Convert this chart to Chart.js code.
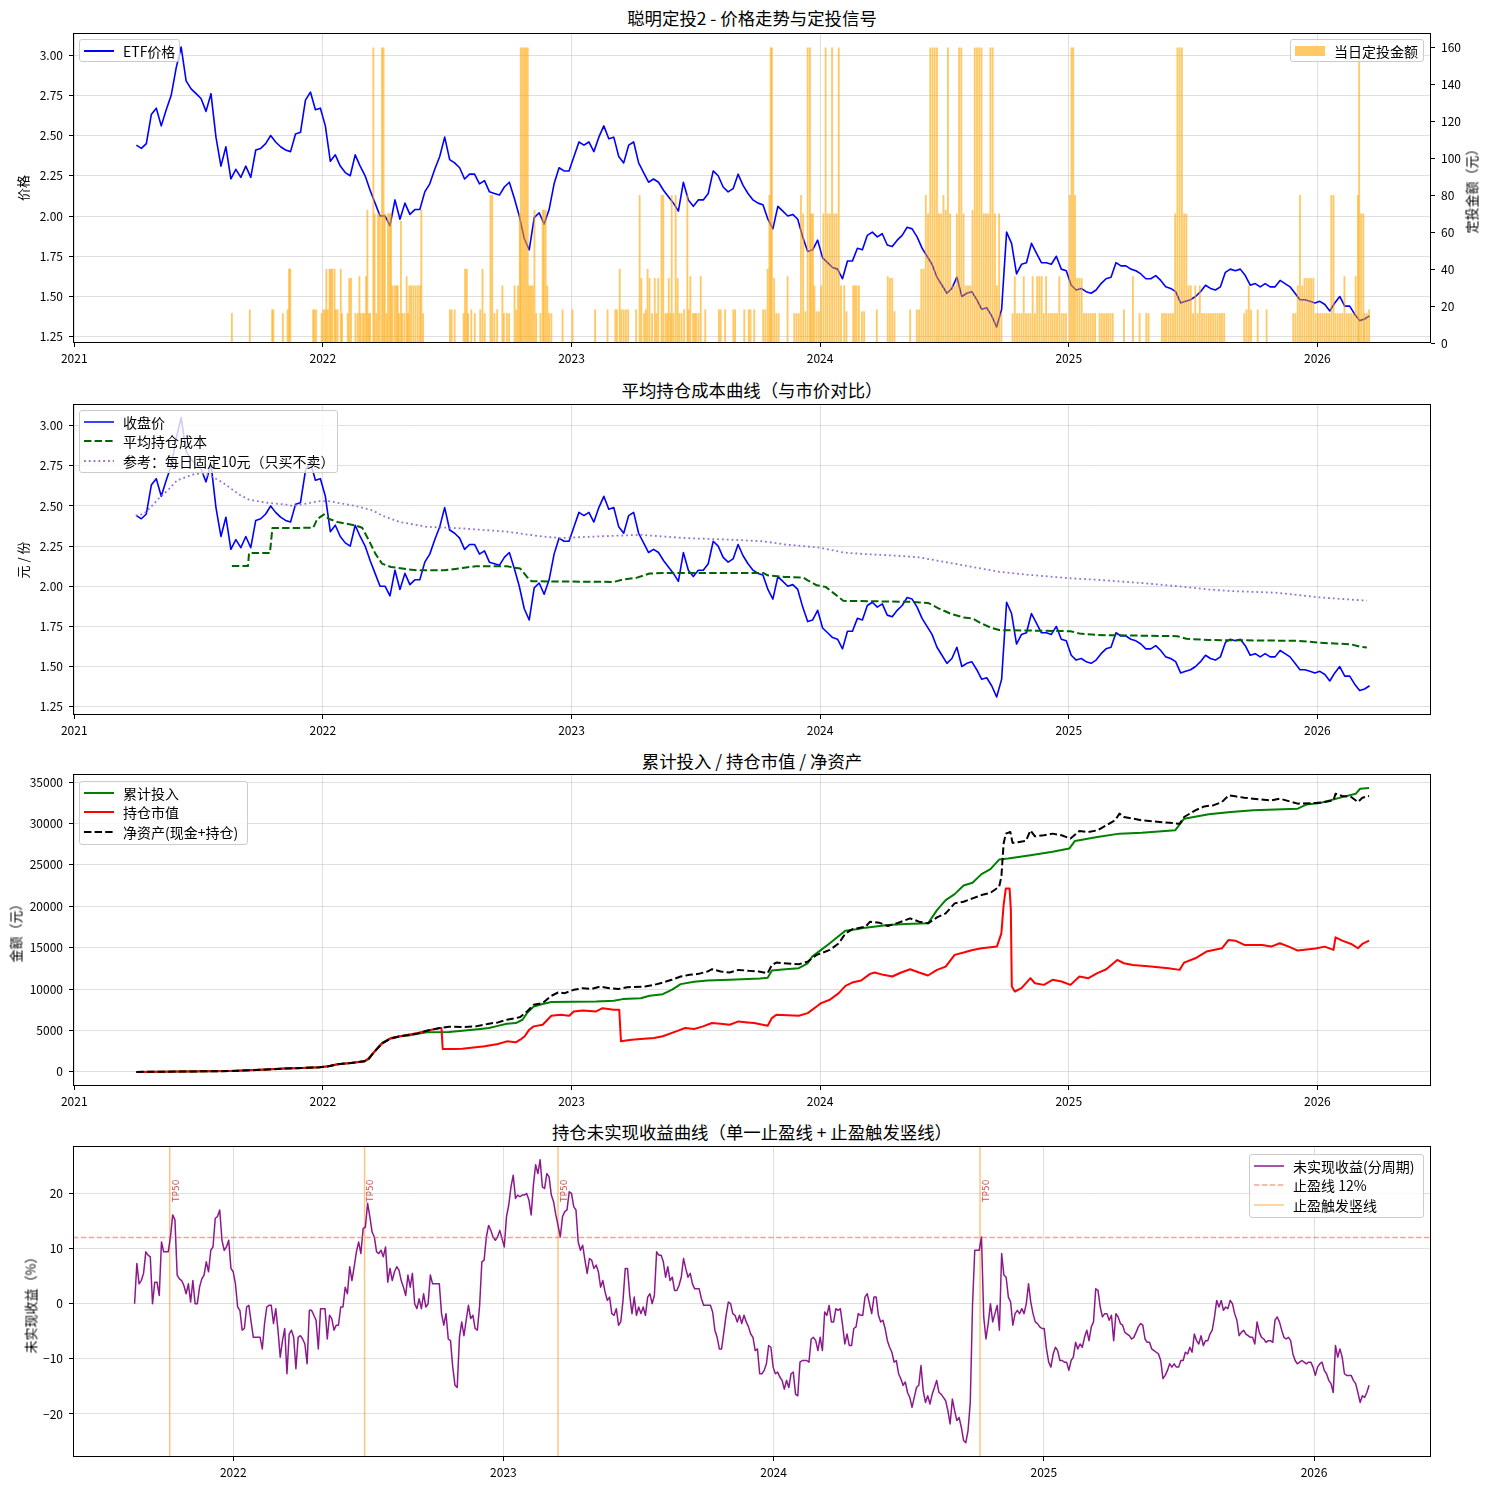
<!DOCTYPE html>
<html lang="zh-CN">
<head>
<meta charset="UTF-8">
<meta name="viewport" content="width=device-width, initial-scale=1.0">
<title>聪明定投2</title>
<script src="https://cdn.jsdelivr.net/npm/chart.js"></script>
<style>
  body { margin: 0; background: #fff; font-family: "Noto Sans CJK SC", "Noto Sans", sans-serif; color: #000; }
  #fig { position: relative; width: 1489px; height: 1489px; overflow: hidden; background: #fff; }
  .box { position: absolute; left: 0; width: 1489px; }
  .title { position: absolute; left: 73px; width: 1358px; height: 20px; line-height: 20px; text-align: center; font-size: 17.4px; }
  .ylab { position: absolute; font-size: 13px; white-space: nowrap; transform: translate(-50%, -50%) rotate(-90deg); }
  .legend { position: absolute; box-sizing: border-box; background: rgba(255,255,255,0.8); border: 1px solid #cccccc; border-radius: 3px; padding: 1px 0 0 4px; font-size: 14px; }
  .legend .row { display: flex; align-items: center; height: 19.5px; white-space: nowrap; }
  .legend svg { margin-right: 9px; flex: none; }
</style>
</head>
<body>
<div id="fig">
  <div class="title" style="top:8px">聪明定投2 - 价格走势与定投信号</div>
  <div class="title" style="top:380px">平均持仓成本曲线（与市价对比）</div>
  <div class="title" style="top:751px">累计投入 / 持仓市值 / 净资产</div>
  <div class="title" style="top:1122px">持仓未实现收益曲线（单一止盈线 + 止盈触发竖线）</div>

  <div class="box" style="top:23px;height:350px"><canvas id="c1" width="1489" height="350"></canvas></div>
  <div class="box" style="top:394px;height:351px"><canvas id="c2" width="1489" height="351"></canvas></div>
  <div class="box" style="top:764px;height:352px"><canvas id="c3" width="1489" height="352"></canvas></div>
  <div class="box" style="top:1136px;height:351px"><canvas id="c4" width="1489" height="351"></canvas></div>

  <div class="ylab" style="left:22px;top:188px">价格</div>
  <div class="ylab" style="left:1471px;top:188px">定投金额（元）</div>
  <div class="ylab" style="left:22px;top:560px">元 / 份</div>
  <div class="ylab" style="left:15px;top:930px">金额（元）</div>
  <div class="ylab" style="left:30px;top:1302px">未实现收益（%）</div>

  <div class="legend" style="left:79px;top:39px;width:101px;height:23px">
    <div class="row"><svg width="30" height="10"><line x1="0" y1="5" x2="30" y2="5" stroke="#0000ff" stroke-width="2"/></svg>ETF价格</div>
  </div>
  <div class="legend" style="left:1290px;top:39px;width:134px;height:23px">
    <div class="row"><svg width="30" height="10"><rect x="0" y="0" width="30" height="10" fill="rgba(255,165,0,0.6)"/></svg>当日定投金额</div>
  </div>
  <div class="legend" style="left:79px;top:410px;width:259px;height:63px">
    <div class="row"><svg width="30" height="10"><line x1="0" y1="5" x2="30" y2="5" stroke="#0000ff" stroke-width="1.5"/></svg>收盘价</div>
    <div class="row"><svg width="30" height="10"><line x1="0" y1="5" x2="30" y2="5" stroke="#006400" stroke-width="2" stroke-dasharray="7.4,3.2"/></svg>平均持仓成本</div>
    <div class="row"><svg width="30" height="10"><line x1="0" y1="5" x2="30" y2="5" stroke="rgb(147,112,219)" stroke-width="1.8" stroke-dasharray="1.8,3"/></svg>参考：每日固定10元（只买不卖）</div>
  </div>
  <div class="legend" style="left:79px;top:781px;width:169px;height:64px">
    <div class="row"><svg width="30" height="10"><line x1="0" y1="5" x2="30" y2="5" stroke="#008000" stroke-width="2"/></svg>累计投入</div>
    <div class="row"><svg width="30" height="10"><line x1="0" y1="5" x2="30" y2="5" stroke="#ff0000" stroke-width="2"/></svg>持仓市值</div>
    <div class="row"><svg width="30" height="10"><line x1="0" y1="5" x2="30" y2="5" stroke="#000000" stroke-width="2" stroke-dasharray="7.4,3.2"/></svg>净资产(现金+持仓)</div>
  </div>
  <div class="legend" style="left:1249px;top:1154px;width:175px;height:64px">
    <div class="row"><svg width="30" height="10"><line x1="0" y1="5" x2="30" y2="5" stroke="rgba(128,0,128,0.9)" stroke-width="1.5"/></svg>未实现收益(分周期)</div>
    <div class="row"><svg width="30" height="10"><line x1="0" y1="5" x2="30" y2="5" stroke="rgba(255,99,71,0.6)" stroke-width="1.5" stroke-dasharray="5.5,2.4"/></svg>止盈线 12%</div>
    <div class="row"><svg width="30" height="10"><line x1="0" y1="5" x2="30" y2="5" stroke="rgba(255,140,0,0.5)" stroke-width="1.5"/></svg>止盈触发竖线</div>
  </div>
</div>

<script>
// ---- data (dates are decimal years) ----

// closing price, one reading every 0.02 year starting 2021.25
const PRICE_T0 = 2021.25;
const PRICE_DT = 0.02;
const PRICE = [
  2.44, 2.42, 2.45, 2.63, 2.67, 2.56, 2.66, 2.75, 2.92, 3.05, 2.84, 2.79, 2.76, 2.73, 2.65, 2.76, 2.49, 2.31, 2.43,
  2.23, 2.29, 2.24, 2.31, 2.24, 2.41, 2.42, 2.45, 2.50, 2.46, 2.43, 2.41, 2.40, 2.51, 2.52, 2.72, 2.77, 2.66, 2.67,
  2.56, 2.34, 2.38, 2.31, 2.27, 2.25, 2.38, 2.31, 2.25, 2.16, 2.08, 2.00, 2.00, 1.94, 2.10, 1.98, 2.08, 2.01, 2.04, 2.04,
  2.15, 2.20, 2.29, 2.37, 2.49, 2.35, 2.33, 2.30, 2.23, 2.26, 2.26, 2.20, 2.22, 2.15, 2.14, 2.13, 2.18, 2.21, 2.11, 2.00,
  1.86, 1.79, 1.99, 2.02, 1.95, 2.04, 2.20, 2.30, 2.28, 2.28,
  2.37, 2.46, 2.44, 2.46, 2.40, 2.49, 2.56, 2.48, 2.49, 2.37, 2.33, 2.44, 2.46, 2.33, 2.27, 2.21, 2.23, 2.21, 2.16, 2.12,
  2.08, 2.03, 2.21, 2.10, 2.06, 2.10, 2.10, 2.14, 2.28, 2.25, 2.18, 2.15, 2.17, 2.26, 2.19, 2.14, 2.10, 2.08, 2.07, 1.98,
  1.92, 2.06, 2.03, 2.00, 2.01, 1.98, 1.87, 1.78, 1.79, 1.85,
  1.74, 1.71, 1.68, 1.67, 1.61, 1.72, 1.72, 1.80, 1.79, 1.88, 1.90, 1.87, 1.89, 1.82, 1.81, 1.85, 1.88, 1.93, 1.92, 1.87,
  1.80, 1.75, 1.70, 1.62, 1.57, 1.52, 1.55, 1.62, 1.50, 1.52, 1.53, 1.48, 1.42, 1.43, 1.38, 1.31, 1.42, 1.90, 1.83, 1.64,
  1.70, 1.71, 1.83, 1.77, 1.71, 1.71, 1.70, 1.75, 1.67, 1.66,
  1.57, 1.54, 1.55, 1.53, 1.52, 1.54, 1.58, 1.61, 1.62, 1.71, 1.69, 1.69, 1.67, 1.66, 1.64, 1.61, 1.61, 1.63, 1.60, 1.56,
  1.55, 1.53, 1.46, 1.47, 1.48, 1.50, 1.53, 1.57, 1.55, 1.54, 1.56, 1.65, 1.67, 1.66, 1.67, 1.63, 1.57, 1.58, 1.56, 1.58,
  1.56, 1.56, 1.60, 1.58, 1.56, 1.52, 1.48, 1.48, 1.47, 1.46,
  1.47, 1.45, 1.41, 1.46, 1.50, 1.44, 1.44, 1.39, 1.35, 1.36, 1.38
];

// daily DCA amount (yuan)
const BAR_DATES = [
  2021.634, 2021.706, 2021.796, 2021.801, 2021.839, 2021.858, 2021.864, 2021.869, 2021.961, 2021.966,
  2021.973, 2021.995, 2022.002, 2022.009, 2022.014, 2022.020, 2022.027, 2022.032, 2022.038, 2022.047,
  2022.052, 2022.059, 2022.072, 2022.077, 2022.100, 2022.106, 2022.113, 2022.131, 2022.140, 2022.147,
  2022.152, 2022.161, 2022.167, 2022.174, 2022.179, 2022.185, 2022.190, 2022.203, 2022.208, 2022.215,
  2022.222, 2022.229, 2022.238, 2022.244, 2022.249, 2022.256, 2022.262, 2022.269, 2022.274, 2022.280,
  2022.289, 2022.296, 2022.301, 2022.306, 2022.314, 2022.319, 2022.328, 2022.337, 2022.342, 2022.348,
  2022.355, 2022.364, 2022.373, 2022.382, 2022.391, 2022.396, 2022.403, 2022.511, 2022.518, 2022.530,
  2022.566, 2022.572, 2022.579, 2022.584, 2022.597, 2022.611, 2022.633, 2022.642, 2022.651, 2022.674,
  2022.681, 2022.690, 2022.701, 2022.722, 2022.728, 2022.740, 2022.749, 2022.771, 2022.778, 2022.785,
  2022.792, 2022.796, 2022.803, 2022.810, 2022.817, 2022.824, 2022.830, 2022.837, 2022.844, 2022.851,
  2022.858, 2022.875, 2022.884, 2022.889, 2022.896, 2022.903, 2022.910, 2022.919, 2022.964, 2023.004,
  2023.095, 2023.145, 2023.176, 2023.183, 2023.194, 2023.201, 2023.210, 2023.219, 2023.228, 2023.260,
  2023.274, 2023.281, 2023.292, 2023.299, 2023.306, 2023.314, 2023.324, 2023.335, 2023.342, 2023.349,
  2023.362, 2023.369, 2023.378, 2023.385, 2023.391, 2023.398, 2023.403, 2023.410, 2023.419, 2023.427,
  2023.434, 2023.443, 2023.453, 2023.466, 2023.471, 2023.478, 2023.489, 2023.496, 2023.502, 2023.511,
  2023.520, 2023.538, 2023.593, 2023.600, 2023.618, 2023.651, 2023.658,
  2023.695, 2023.713, 2023.720, 2023.735, 2023.771, 2023.780, 2023.789, 2023.796, 2023.801, 2023.806,
  2023.815, 2023.824, 2023.833, 2023.869, 2023.896, 2023.905, 2023.914, 2023.923, 2023.932, 2023.941,
  2023.950, 2023.959, 2023.964, 2023.971, 2023.977, 2023.986, 2023.995, 2024.004, 2024.013, 2024.022,
  2024.030, 2024.039, 2024.048, 2024.057, 2024.066, 2024.075, 2024.084, 2024.097, 2024.106, 2024.133,
  2024.140, 2024.147, 2024.156, 2024.168, 2024.177, 2024.228, 2024.272, 2024.281, 2024.290, 2024.299,
  2024.362, 2024.389, 2024.398, 2024.407, 2024.416, 2024.425, 2024.434, 2024.443, 2024.452, 2024.461,
  2024.470, 2024.478, 2024.487, 2024.496, 2024.505, 2024.514, 2024.523, 2024.532, 2024.541, 2024.550,
  2024.559, 2024.568, 2024.577, 2024.586, 2024.595, 2024.604, 2024.613, 2024.622, 2024.631, 2024.640,
  2024.649, 2024.658, 2024.667, 2024.676, 2024.685, 2024.694, 2024.703, 2024.711, 2024.720, 2024.729,
  2024.774, 2024.783, 2024.792, 2024.801, 2024.810, 2024.819, 2024.828, 2024.837, 2024.846, 2024.855,
  2024.864, 2024.873, 2024.882, 2024.891, 2024.900, 2024.909, 2024.918, 2024.927, 2024.935, 2024.944,
  2024.953, 2024.962, 2024.971, 2024.980, 2024.989, 2025.004, 2025.011, 2025.018, 2025.025, 2025.034,
  2025.043, 2025.052, 2025.061, 2025.070, 2025.079, 2025.088, 2025.097, 2025.106, 2025.124, 2025.133,
  2025.142, 2025.151, 2025.159, 2025.168, 2025.177, 2025.222, 2025.258, 2025.285, 2025.312, 2025.321,
  2025.375, 2025.384, 2025.392, 2025.401, 2025.410, 2025.419, 2025.428, 2025.437, 2025.446, 2025.455,
  2025.464, 2025.473, 2025.482, 2025.491, 2025.500, 2025.509, 2025.518, 2025.527, 2025.536, 2025.545,
  2025.554, 2025.563, 2025.572, 2025.581, 2025.590, 2025.599, 2025.608, 2025.616, 2025.625, 2025.706,
  2025.715, 2025.724, 2025.733, 2025.760, 2025.796, 2025.903, 2025.912, 2025.921, 2025.930, 2025.939,
  2025.948, 2025.957, 2025.966, 2025.975, 2025.984, 2025.993, 2026.002, 2026.011, 2026.020, 2026.029,
  2026.038, 2026.047, 2026.056, 2026.065, 2026.073, 2026.082, 2026.091, 2026.100, 2026.109, 2026.118,
  2026.127, 2026.136, 2026.145, 2026.154, 2026.163, 2026.168, 2026.176, 2026.185, 2026.190, 2026.199,
  2026.208
];
const BAR_AMOUNTS = [
  16, 18, 18, 18, 16, 18, 40, 40, 18, 18,
  18, 16, 18, 18, 40, 18, 40, 40, 40, 40,
  18, 18, 40, 16, 16, 35, 35, 16, 16, 36,
  16, 16, 16, 36, 72, 16, 16, 160, 70, 16,
  70, 70, 160, 160, 70, 16, 70, 70, 70, 31,
  31, 31, 31, 16, 66, 16, 16, 36, 16, 31,
  31, 31, 31, 31, 31, 72, 16, 18, 18, 18,
  16, 40, 40, 16, 18, 16, 18, 40, 16, 80,
  80, 16, 18, 31, 16, 16, 16, 31, 18, 31,
  70, 160, 160, 160, 160, 160, 31, 31, 31, 72,
  16, 16, 72, 72, 72, 31, 16, 16, 18, 18,
  18, 18, 18, 18, 40, 18, 18, 18, 18, 18,
  80, 35, 16, 18, 40, 35, 16, 35, 16, 35,
  80, 80, 16, 16, 35, 16, 80, 16, 80, 35,
  16, 16, 18, 80, 18, 36, 16, 16, 16, 16,
  36, 18, 18, 18, 18, 18, 18,
  18, 18, 18, 18, 18, 18, 40, 80, 160, 160,
  35, 16, 16, 36, 16, 16, 16, 80, 70, 17,
  160, 160, 70, 70, 31, 17, 17, 31, 70, 160,
  70, 70, 160, 70, 70, 160, 31, 31, 17, 31,
  31, 31, 31, 17, 17, 18, 36, 35, 35, 17,
  18, 18, 18, 40, 40, 80, 70, 160, 160, 160,
  160, 70, 70, 80, 72, 160, 70, 31, 31, 70,
  160, 160, 70, 31, 31, 31, 72, 160, 160, 160,
  160, 70, 70, 70, 160, 160, 70, 31, 70, 16,
  16, 36, 16, 16, 16, 36, 16, 16, 16, 36,
  16, 36, 36, 36, 16, 36, 16, 16, 16, 16,
  16, 36, 16, 16, 16, 80, 160, 160, 80, 35,
  35, 35, 16, 16, 16, 16, 16, 16, 16, 16,
  16, 16, 16, 16, 16, 18, 36, 16, 16, 16,
  16, 16, 16, 16, 16, 16, 70, 160, 160, 160,
  70, 70, 31, 31, 16, 31, 16, 31, 16, 16,
  16, 16, 16, 16, 16, 16, 16, 16, 16, 16,
  18, 31, 18, 18, 18, 16, 16, 31, 80, 31,
  35, 35, 35, 35, 35, 16, 16, 16, 16, 16,
  16, 16, 80, 80, 16, 16, 16, 16, 36, 16,
  16, 16, 16, 36, 80, 160, 70, 70, 16, 16,
  18
];

// average holding cost
const COST_DATES = [
  2021.634, 2021.699, 2021.703, 2021.787, 2021.797, 2021.961, 2021.978, 2022.005, 2022.023, 2022.059,
  2022.095, 2022.131, 2022.158, 2022.185, 2022.211, 2022.238, 2022.274, 2022.346, 2022.382, 2022.489,
  2022.561, 2022.615, 2022.740, 2022.794, 2022.821, 2022.839, 2023.170, 2023.206, 2023.260, 2023.314,
  2023.367, 2023.771, 2023.789, 2023.860, 2023.932, 2023.950, 2023.986, 2024.022, 2024.057, 2024.093,
  2024.362, 2024.434, 2024.478, 2024.523, 2024.577, 2024.613, 2024.649, 2024.685, 2024.720, 2025.007,
  2025.043, 2025.115, 2025.437, 2025.473, 2025.563, 2025.921, 2026.011, 2026.136, 2026.172, 2026.199
];
const COST = [
  2.126, 2.126, 2.207, 2.207, 2.362, 2.364, 2.420, 2.447, 2.420, 2.400,
  2.389, 2.379, 2.364, 2.286, 2.203, 2.141, 2.120, 2.104, 2.099, 2.099,
  2.114, 2.124, 2.124, 2.110, 2.058, 2.031, 2.027, 2.041, 2.052, 2.079,
  2.083, 2.083, 2.068, 2.058, 2.054, 2.037, 2.006, 1.996, 1.954, 1.909,
  1.903, 1.896, 1.861, 1.830, 1.805, 1.799, 1.768, 1.743, 1.727, 1.720,
  1.706, 1.696, 1.689, 1.673, 1.665, 1.660, 1.648, 1.638, 1.623, 1.619
];

// reference: fixed 10 yuan every day
const REF_DATES = [
  2021.247, 2021.280, 2021.306, 2021.342, 2021.378, 2021.414, 2021.450, 2021.486, 2021.522, 2021.557,
  2021.593, 2021.629, 2021.665, 2021.701, 2021.772, 2021.844, 2021.880, 2021.916, 2021.987, 2022.023,
  2022.095, 2022.131, 2022.203, 2022.238, 2022.310, 2022.346, 2022.418, 2022.561, 2022.740, 2022.830,
  2022.884, 2022.955, 2023.099, 2023.278, 2023.457, 2023.636, 2023.771, 2023.860, 2024.000, 2024.093,
  2024.183, 2024.308, 2024.398, 2024.470, 2024.541, 2024.613, 2024.720, 2024.846, 2025.002, 2025.115,
  2025.294, 2025.437, 2025.563, 2025.652, 2025.832, 2026.011, 2026.199
];
const REF_COST = [
  2.44, 2.45, 2.49, 2.55, 2.60, 2.66, 2.68, 2.70, 2.70, 2.68,
  2.65, 2.61, 2.57, 2.54, 2.52, 2.51, 2.50, 2.51, 2.53, 2.53,
  2.51, 2.50, 2.47, 2.44, 2.40, 2.39, 2.37, 2.36, 2.34, 2.32,
  2.31, 2.30, 2.31, 2.32, 2.30, 2.29, 2.28, 2.26, 2.24, 2.21,
  2.20, 2.19, 2.18, 2.16, 2.14, 2.12, 2.09, 2.07, 2.05, 2.04,
  2.02, 2.00, 1.98, 1.97, 1.96, 1.93, 1.91
];

// cumulative invested
const INV_DATES = [
  2021.250, 2021.629, 2021.772, 2021.844, 2021.916, 2021.987, 2022.023, 2022.059, 2022.113, 2022.167,
  2022.185, 2022.203, 2022.220, 2022.238, 2022.265, 2022.310, 2022.346, 2022.382, 2022.418, 2022.507,
  2022.561, 2022.633, 2022.668, 2022.704, 2022.740, 2022.776, 2022.803, 2022.821, 2022.848, 2022.884,
  2022.919, 2023.099, 2023.170, 2023.206, 2023.278, 2023.314, 2023.367, 2023.403, 2023.439, 2023.493,
  2023.547, 2023.636, 2023.758, 2023.789, 2023.806, 2023.860, 2023.914, 2023.950, 2023.968, 2024.004,
  2024.039, 2024.075, 2024.102, 2024.147, 2024.183, 2024.272, 2024.344, 2024.434, 2024.470, 2024.505,
  2024.541, 2024.577, 2024.613, 2024.649, 2024.685, 2024.720, 2024.756, 2024.846, 2024.935, 2025.002,
  2025.025, 2025.115, 2025.204, 2025.294, 2025.428, 2025.464, 2025.563, 2025.652, 2025.742, 2025.921,
  2025.957, 2026.011, 2026.100, 2026.154, 2026.172, 2026.208
];
const INVESTED = [
  0, 100, 280, 400, 480, 560, 680, 920, 1080, 1280,
  1560, 2290, 2900, 3500, 3970, 4300, 4400, 4600, 4780, 4820,
  4980, 5180, 5300, 5560, 5820, 5900, 6300, 7100, 7900, 8190,
  8430, 8500, 8590, 8790, 8900, 9190, 9390, 9900, 10600, 10880,
  11040, 11120, 11280, 11360, 12240, 12400, 12520, 13120, 13920, 14730,
  15530, 16400, 17060, 17220, 17420, 17740, 17860, 17940, 19540, 20750,
  21470, 22510, 22830, 23880, 24480, 25640, 25760, 26160, 26570, 26970,
  27890, 28370, 28770, 28890, 29170, 30580, 31100, 31380, 31580, 31780,
  32300, 32460, 33180, 33580, 34190, 34270
];

// market value of holdings
const MV_DATES = [
  2021.250, 2021.629, 2021.772, 2021.844, 2021.916, 2021.987, 2022.023, 2022.059, 2022.113, 2022.167,
  2022.185, 2022.203, 2022.238, 2022.274, 2022.310, 2022.382, 2022.418, 2022.471, 2022.477, 2022.482,
  2022.525, 2022.561, 2022.651, 2022.704, 2022.740, 2022.776, 2022.794, 2022.812, 2022.830, 2022.848,
  2022.884, 2022.919, 2022.955, 2022.991, 2023.009, 2023.045, 2023.099, 2023.125, 2023.170, 2023.192,
  2023.199, 2023.242, 2023.278, 2023.332, 2023.367, 2023.421, 2023.457, 2023.493, 2023.529, 2023.565,
  2023.600, 2023.636, 2023.672, 2023.708, 2023.735, 2023.789, 2023.806, 2023.824, 2023.914, 2023.950,
  2023.986, 2024.004, 2024.039, 2024.075, 2024.102, 2024.129, 2024.165, 2024.201, 2024.219, 2024.254,
  2024.290, 2024.326, 2024.362, 2024.398, 2024.434, 2024.470, 2024.505, 2024.541, 2024.577, 2024.613,
  2024.649, 2024.685, 2024.711, 2024.729, 2024.738, 2024.747, 2024.762, 2024.767, 2024.771, 2024.783,
  2024.810, 2024.846, 2024.864, 2024.900, 2024.935, 2024.971, 2025.007, 2025.043, 2025.079, 2025.115,
  2025.151, 2025.195, 2025.222, 2025.258, 2025.330, 2025.401, 2025.446, 2025.464, 2025.509, 2025.554,
  2025.616, 2025.643, 2025.670, 2025.706, 2025.778, 2025.814, 2025.849, 2025.885, 2025.921, 2025.993,
  2026.029, 2026.065, 2026.073, 2026.100, 2026.136, 2026.163, 2026.181, 2026.208
];
const MARKET_VALUE = [
  0, 100, 280, 400, 480, 560, 680, 920, 1080, 1280,
  1680, 2290, 3410, 4090, 4300, 4700, 4980, 5300, 5300, 2770,
  2770, 2810, 3090, 3370, 3690, 3570, 3890, 4300, 5100, 5500,
  5700, 6780, 6900, 6780, 7300, 7420, 7300, 7700, 7500, 7500,
  3690, 3890, 3970, 4090, 4300, 4900, 5300, 5180, 5500, 5900,
  5820, 5700, 6100, 5980, 5900, 5580, 6500, 6900, 6780, 7100,
  7900, 8310, 8710, 9510, 10390, 10790, 11040, 11840, 12000, 11720,
  11520, 12000, 12400, 12000, 11640, 12320, 12720, 14130, 14410, 14730,
  14930, 15050, 15130, 16730, 20150, 22150, 22150, 19660, 10310, 9710,
  10110, 11320, 10710, 10510, 11120, 10920, 10510, 11520, 11320, 11920,
  12400, 13520, 13120, 12920, 12720, 12520, 12320, 13200, 13720, 14530,
  14930, 15930, 15850, 15330, 15330, 15130, 15530, 15130, 14650, 14890,
  15130, 14730, 16250, 15850, 15450, 14930, 15450, 15850
];

// net assets (cash + holdings)
const NAV_DATES = [
  2021.250, 2021.629, 2021.772, 2021.844, 2021.916, 2021.987, 2022.023, 2022.059, 2022.113, 2022.167,
  2022.185, 2022.203, 2022.238, 2022.274, 2022.310, 2022.382, 2022.418, 2022.471, 2022.507, 2022.561,
  2022.615, 2022.668, 2022.704, 2022.740, 2022.776, 2022.794, 2022.821, 2022.848, 2022.884, 2022.919,
  2022.946, 2022.973, 2023.009, 2023.045, 2023.081, 2023.116, 2023.152, 2023.188, 2023.224, 2023.296,
  2023.332, 2023.367, 2023.403, 2023.439, 2023.475, 2023.511, 2023.547, 2023.565, 2023.600, 2023.636,
  2023.672, 2023.717, 2023.753, 2023.789, 2023.806, 2023.824, 2023.914, 2023.950, 2023.986, 2024.004,
  2024.039, 2024.075, 2024.102, 2024.129, 2024.183, 2024.201, 2024.237, 2024.272, 2024.308, 2024.362,
  2024.398, 2024.434, 2024.470, 2024.505, 2024.541, 2024.577, 2024.613, 2024.649, 2024.685, 2024.720,
  2024.729, 2024.738, 2024.747, 2024.765, 2024.774, 2024.801, 2024.828, 2024.846, 2024.864, 2024.900,
  2024.935, 2024.971, 2025.007, 2025.043, 2025.079, 2025.115, 2025.151, 2025.186, 2025.204, 2025.222,
  2025.258, 2025.294, 2025.366, 2025.446, 2025.464, 2025.509, 2025.545, 2025.581, 2025.616, 2025.643,
  2025.670, 2025.706, 2025.742, 2025.814, 2025.849, 2025.921, 2025.993, 2026.029, 2026.065, 2026.073,
  2026.100, 2026.136, 2026.163, 2026.181, 2026.208
];
const NET_ASSETS = [
  0, 100, 280, 400, 480, 560, 680, 920, 1080, 1280,
  1600, 2290, 3450, 4050, 4300, 4650, 4980, 5300, 5460, 5420,
  5500, 5820, 5980, 6300, 6500, 6620, 7300, 8110, 8310, 9190,
  9590, 9510, 9910, 10110, 10030, 10310, 10110, 10000, 10230, 10310,
  10510, 10790, 11120, 11520, 11720, 11840, 12120, 12400, 12120, 12000,
  12320, 12200, 12120, 11920, 12920, 13200, 13000, 13320, 14130, 14330,
  14730, 15530, 16730, 17220, 17540, 18140, 18020, 17620, 17940, 18540,
  18140, 17940, 18660, 19140, 20350, 20550, 20950, 21350, 21630, 22350,
  23560, 27570, 28770, 28970, 27650, 27770, 27890, 29170, 28450, 28570,
  28770, 28570, 28170, 29090, 28970, 29170, 29770, 30380, 31180, 30780,
  30580, 30380, 30180, 29970, 30780, 31580, 32060, 32180, 32590, 33390,
  33270, 33110, 32990, 32790, 32990, 32390, 32470, 32590, 32790, 33590,
  33310, 33190, 32590, 33110, 33310
];

// unrealized return (%), one reading every ~3 days starting 2021.635
const PNL_T0 = 2021.635;
const PNL_DT = 0.0082919;
const PNL = [
  0, 7.3, 3.6, 4.2, 5.5, 9.4, 8.8, 8.5, 0, 3.9,
  3.9, 1.5, 11.2, 9.4, 9.4, 9.4, 12.1, 16.1, 15.2, 5.2,
  4.5, 4.2, 3.3, 1.8, 3.6, 0.3, 4.2, 0, 0, 3.0,
  4.5, 5.2, 7.6, 5.8, 9.7, 10.3, 15.5, 15.8, 17.0, 11.5,
  9.7, 10.3, 11.5, 6.4, 5.8, 3.6, -0.6, -1.2, -4.8, -4.5,
  -0.6, -0.3, -3.3, -6.1, -6.1, -6.1, -6.1, -8.2, -3.6, -0.6,
  -0.3, -0.3, -3.6, -0.9, -4.8, -9.7, -6.7, -4.5, -12.7, -5.5,
  -4.8, -6.1, -11.8, -6.1, -5.8, -6.4, -7.3, -10.9, -1.2, -1.2,
  -2.1, -3.0, -8.2, -0.9, -0.9, -0.9, -6.4, -2.1, -2.7, -4.8,
  -3.9, -3.9, -0.6, -0.6, 3.0, 1.8, 6.7, 4.2, 6.7, 9.4,
  11.2, 9.1, 13.6, 13.9, 18.2, 15.8, 13.0, 12.1, 9.4, 9.1,
  9.7, 8.5, 10.3, 3.9, 6.4, 4.2, 5.8, 6.7, 6.1, 4.2,
  3.0, 1.5, 5.2, 3.0, 5.5, 0, -0.9, 0.9, -0.9, 1.8,
  -0.6, 0, 5.2, 3.6, 3.6, 3.6, 3.6, -1.8, -3.9, -1.8,
  -6.4, -6.7, -11.5, -14.8, -15.2, -6.1, -3.3, -5.8, -3.0, -0.3,
  -2.7, -2.1, -4.5, -4.8, -0.3, 7.6, 7.9, 12.1, 14.2, 13.3,
  12.1, 11.5, 12.1, 13.3, 11.8, 10.3, 15.8, 17.9, 21.2, 23.3,
  19.1, 19.7, 19.4, 19.7, 19.7, 20.0, 18.8, 16.1, 21.5, 25.2,
  23.6, 26.1, 21.2, 20.9, 23.6, 23.0, 19.7, 18.5, 16.1, 14.2,
  12.1, 15.8, 16.7, 17.0, 20.3, 20.0, 17.6, 17.0, 11.2, 9.7,
  10.6, 7.9, 5.5, 8.2, 7.9, 6.4, 7.0, 5.8, 3.0, 4.2,
  2.1, 0.6, 1.2, -1.8, -2.1, -0.9, -3.9, -3.3, 0.6, 6.4,
  6.4, 1.5, -1.8, 1.2, -2.1, -0.6, -1.8, -0.6, -2.1, 1.2,
  1.8, 0, 1.5, 9.4, 8.8, 8.8, 7.6, 4.8, 6.7, 4.2,
  4.8, 2.4, 2.4, 3.3, 4.8, 8.2, 6.4, 4.8, 5.5, 3.6,
  2.7, 2.7, 2.7, 0.9, -0.3, -0.3, -0.3, -0.3, -1.5, -4.8,
  -6.1, -8.2, -8.2, -5.2, -2.1, 0.3, 0, -1.8, -2.1, -3.3,
  -2.1, -3.6, -2.1, -3.3, -4.2, -5.5, -6.1, -8.5, -8.2, -12.7,
  -12.7, -12.1, -10.9, -7.6, -7.9, -11.5, -12.7, -12.4, -13.3, -13.9,
  -15.5, -13.9, -15.2, -12.7, -12.4, -16.4, -16.7, -10.6, -10.3, -10.3,
  -10.3, -10.6, -6.4, -6.1, -6.7, -8.5, -6.1, -8.5, -1.5, -2.1,
  -0.3, -3.3, -3.3, -0.9, -1.2, -0.9, -3.9, -7.3, -5.5, -7.6,
  -7.6, -4.5, -4.2, -1.8, -2.1, -2.1, 1.2, 1.8, 0, -1.8,
  1.2, 1.2, -2.1, -3.3, -3.0, -4.5, -6.7, -7.9, -8.8, -10.6,
  -10.3, -12.7, -13.6, -14.8, -14.2, -16.1, -17.0, -18.8, -17.0, -15.2,
  -14.8, -11.2, -15.8, -17.9, -16.7, -18.2, -16.4, -15.2, -13.9, -16.1,
  -16.4, -17.0, -17.6, -19.4, -21.8, -17.3, -19.4, -21.2, -20.6, -22.4,
  -24.8, -25.2, -23.0, -17.9, -0.3, 9.7, 9.7, 9.7, 12.1, -2.4,
  -6.4, -3.6, 0, -3.3, -1.8, -0.3, -4.8, 9.1, 5.2, 4.8,
  1.2, 0.3, -3.9, -1.8, -1.2, -1.8, -0.9, -1.8, 0, 3.6,
  0.3, -1.8, -3.3, -3.6, -4.2, -4.5, -4.5, -8.2, -10.6, -11.5,
  -9.1, -7.9, -8.5, -10.3, -10.3, -10.6, -10.6, -12.1, -10.3, -9.7,
  -7.0, -8.2, -7.3, -7.9, -6.1, -4.8, -6.7, -4.2, -3.3, 2.7,
  2.4, -0.6, -2.4, -1.8, -1.8, -3.0, -2.1, -6.7, -1.8, -2.4,
  -3.6, -3.9, -5.2, -5.5, -5.8, -6.4, -6.1, -5.2, -4.2, -3.6,
  -3.9, -6.4, -7.0, -7.0, -8.2, -8.5, -8.8, -9.1, -10.3, -13.6,
  -13.0, -12.1, -10.9, -11.5, -10.9, -11.5, -11.5, -10.3, -10.3, -8.8,
  -9.1, -7.9, -8.8, -5.5, -6.7, -7.3, -5.8, -7.6, -6.7, -6.7,
  -5.5, -4.8, -2.4, 0.6, -0.6, 0.6, -1.2, -0.6, -0.9, 0.6,
  0, -1.8, -3.0, -5.8, -5.2, -4.8, -5.5, -5.8, -6.1, -6.1,
  -7.3, -3.3, -5.2, -6.1, -6.4, -7.0, -6.7, -6.7, -7.0, -3.0,
  -2.4, -3.3, -4.8, -6.1, -6.4, -6.1, -6.7, -9.1, -10.3, -10.9,
  -10.6, -10.3, -10.6, -10.9, -10.6, -10.6, -11.5, -13.0, -11.5, -10.9,
  -10.6, -12.1, -12.7, -13.9, -14.5, -16.1, -7.6, -9.7, -8.2, -9.7,
  -12.7, -13.0, -13.0, -13.0, -13.9, -14.5, -16.1, -17.9, -16.7, -17.0,
  -16.1, -14.8
];
const STOP_PCT = 12;
const TP_DATES = [2021.765, 2022.486, 2023.202, 2024.764];
const TP_LABEL = 'TP50';

// axis ticks and ranges
const YEARS = [2021, 2022, 2023, 2024, 2025, 2026];
const YEARS_PNL = [2022, 2023, 2024, 2025, 2026];
const PRICE_TICKS = [1.25, 1.5, 1.75, 2.0, 2.25, 2.5, 2.75, 3.0];
const AMOUNT_TICKS = [0, 20, 40, 60, 80, 100, 120, 140, 160];
const MONEY_TICKS = [0, 5000, 10000, 15000, 20000, 25000, 30000, 35000];
const PNL_TICKS = [-20, -10, 0, 10, 20];

const X_MIN = 2020.995, X_MAX = 2026.457;
const X4_MIN = 2021.407, X4_MAX = 2026.433;
const Y4_MIN = -27.8, Y4_MAX = 28.6;

// ---- chart helpers ----
Chart.defaults.font.family = '"Noto Sans CJK SC", "Noto Sans", sans-serif';
Chart.defaults.font.size = 12;
Chart.defaults.color = '#000';

const GRID = 'rgba(176,176,176,0.4)';

const pairs = (xs, ys) => xs.map((x, i) => ({ x: x, y: ys[i] }));
const onGrid = (t0, dt, ys) => ys.map((y, i) => ({ x: t0 + i * dt, y: y }));

function xAxis(min, max, years) {
  return {
    type: 'linear', min: min, max: max, offset: false,
    afterBuildTicks: s => { s.ticks = years.map(v => ({ value: v })); },
    ticks: { callback: v => String(v), padding: 4, maxRotation: 0, autoSkip: false },
    grid: { offset: false, color: GRID, tickColor: '#000', tickLength: 4 },
    border: { display: false },
    afterFit: s => { s.height = 30; s.paddingLeft = 0; s.paddingRight = 0; }
  };
}

function yAxis(pos, min, max, ticks, fmt, width, gridOn) {
  return {
    type: 'linear', position: pos, min: min, max: max,
    afterBuildTicks: s => { s.ticks = ticks.map(v => ({ value: v })); },
    ticks: { callback: fmt, padding: 6 },
    grid: { drawOnChartArea: gridOn, color: GRID, tickColor: '#000', tickLength: 4 },
    border: { display: false },
    afterFit: s => { s.width = width; s.paddingTop = 0; s.paddingBottom = 0; }
  };
}

function line(data, color, width, dash, order) {
  return {
    type: 'line', data: data, borderColor: color, borderWidth: width,
    borderDash: dash || [], pointRadius: 0, fill: false, tension: 0,
    order: order || 1, borderCapStyle: 'butt', borderJoinStyle: 'round'
  };
}

function options(scales, padRight) {
  return {
    responsive: false, animation: false, events: [],
    layout: { padding: { top: 10, right: padRight, bottom: 0, left: 0 } },
    plugins: { legend: { display: false }, tooltip: { enabled: false }, title: { display: false } },
    scales: scales
  };
}

// black box round the plot area, like matplotlib spines
const frame = {
  id: 'frame',
  afterDraw(chart) {
    const a = chart.chartArea, ctx = chart.ctx;
    ctx.save();
    ctx.strokeStyle = '#000';
    ctx.lineWidth = 1;
    ctx.strokeRect(Math.round(a.left) + 0.5, Math.round(a.top) + 0.5,
      Math.round(a.right - a.left) - 1, Math.round(a.bottom - a.top) - 1);
    ctx.restore();
  }
};

// rotated labels next to the take-profit lines
const tpLabels = {
  id: 'tpLabels',
  afterDatasetsDraw(chart) {
    const ctx = chart.ctx, xs = chart.scales.x, top = chart.chartArea.top;
    ctx.save();
    ctx.fillStyle = 'rgba(190,40,40,0.8)';
    ctx.font = '9px "DejaVu Sans"';
    ctx.textBaseline = 'middle';
    TP_DATES.forEach(d => {
      ctx.save();
      ctx.translate(xs.getPixelForValue(d) + 6.5, top + 56);
      ctx.rotate(-Math.PI / 2);
      ctx.fillText(TP_LABEL, 0, 0);
      ctx.restore();
    });
    ctx.restore();
  }
};

const pricePts = onGrid(PRICE_T0, PRICE_DT, PRICE);

// 1: price and DCA signal
new Chart(document.getElementById('c1'), {
  type: 'line',
  data: {
    datasets: [
      Object.assign(line(pricePts, '#0000ff', 1.6, null, 2), { yAxisID: 'y' }),
      {
        type: 'bar', data: pairs(BAR_DATES, BAR_AMOUNTS), yAxisID: 'y2',
        backgroundColor: 'rgba(255,165,0,0.6)', borderWidth: 0, barThickness: 1.2, order: 1
      }
    ]
  },
  options: options({
    x: xAxis(X_MIN, X_MAX, YEARS),
    y: yAxis('left', 1.211, 3.137, PRICE_TICKS, v => v.toFixed(2), 73, true),
    y2: yAxis('right', 0, 168, AMOUNT_TICKS, v => String(v), 58, false)
  }, 0),
  plugins: [frame]
});

// 2: average cost vs price
new Chart(document.getElementById('c2'), {
  type: 'line',
  data: {
    datasets: [
      line(pricePts, '#0000ff', 1.6, null, 3),
      line(pairs(COST_DATES, COST), '#006400', 2, [7.4, 3.2], 2),
      line(pairs(REF_DATES, REF_COST), 'rgb(147,112,219)', 1.8, [1.8, 3], 1)
    ]
  },
  options: options({
    x: xAxis(X_MIN, X_MAX, YEARS),
    y: yAxis('left', 1.198, 3.135, PRICE_TICKS, v => v.toFixed(2), 73, true)
  }, 58),
  plugins: [frame]
});

// 3: invested / market value / net assets
new Chart(document.getElementById('c3'), {
  type: 'line',
  data: {
    datasets: [
      line(pairs(INV_DATES, INVESTED), '#008000', 2, null, 3),
      line(pairs(MV_DATES, MARKET_VALUE), '#ff0000', 2, null, 2),
      line(pairs(NAV_DATES, NET_ASSETS), '#000000', 2, [7.4, 3.2], 1)
    ]
  },
  options: options({
    x: xAxis(X_MIN, X_MAX, YEARS),
    y: yAxis('left', -1700, 35970, MONEY_TICKS, v => String(v), 73, true)
  }, 58),
  plugins: [frame]
});

// 4: unrealized return with take-profit line and triggers
const tpLines = TP_DATES.map(d =>
  line([{ x: d, y: Y4_MIN }, { x: d, y: Y4_MAX }], 'rgba(255,140,0,0.5)', 1.5, null, 3));

new Chart(document.getElementById('c4'), {
  type: 'line',
  data: {
    datasets: [
      line(onGrid(PNL_T0, PNL_DT, PNL), 'rgba(128,0,128,0.9)', 1.5, null, 2),
      line([{ x: X4_MIN, y: STOP_PCT }, { x: X4_MAX, y: STOP_PCT }], 'rgba(255,99,71,0.6)', 1.5, [5.5, 2.4], 1)
    ].concat(tpLines)
  },
  options: options({
    x: xAxis(X4_MIN, X4_MAX, YEARS_PNL),
    y: yAxis('left', Y4_MIN, Y4_MAX, PNL_TICKS, v => (v < 0 ? '\u2212' + Math.abs(v) : String(v)), 73, true)
  }, 58),
  plugins: [frame, tpLabels]
});
</script>
</body>
</html>
